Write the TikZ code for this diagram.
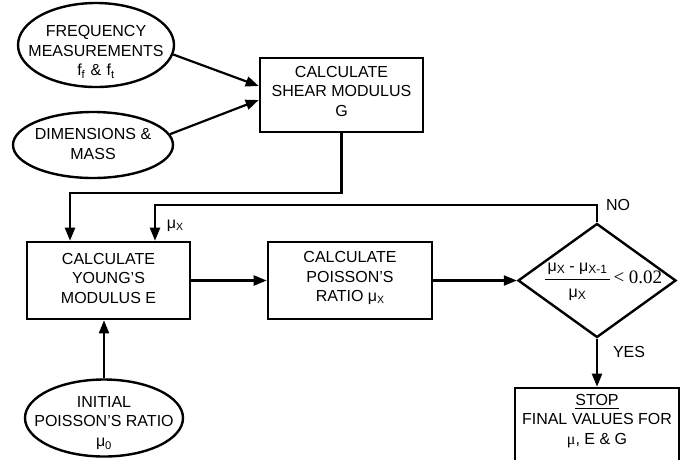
\documentclass[tikz,border=0pt]{standalone}
\usepackage{fontspec}
\usepackage{amsmath}
\setmainfont{Liberation Sans}
\newfontfamily\serifff{Liberation Serif}
\usetikzlibrary{shapes.geometric,arrows.meta,calc}
\newcommand\subXX[1]{\raisebox{-1.5pt}{\fontsize{10.5}{10.5}\selectfont #1}}
\newcommand\myMuX{μ\subXX{X}}
\newcommand\subXY[1]{\raisebox{-1.5pt}{\fontsize{12}{12}\selectfont #1}}
\begin{document}
\begin{tikzpicture}[x=1pt,y=-1pt,
  every node/.style={font=\fontsize{16}{19.5}\selectfont},
  box/.style={draw, line width=2.6pt, rectangle, inner sep=0pt, align=center},
  oval/.style={draw, line width=2.4pt, ellipse, inner sep=0pt},
  txt/.style={align=center, inner sep=0pt},
  arr/.style={line width=2.2pt, -{Triangle[length=13pt,width=10pt]}}]
\useasboundingbox (0,0) rectangle (685,459);
\fill[white] (0,0) rectangle (685,459);

% input ovals
\node[oval, minimum width=156pt, minimum height=84pt] (e1) at (96,45) {};
\node[txt] (e1t) at (96,52)
  {FREQUENCY\\MEASUREMENTS\\f\textsubscript{f}\,\,\&\,\,f\textsubscript{t}};
\node[oval, minimum width=160pt, minimum height=66pt] (e2) at (93,145) {};
\node[txt] (e2t) at (93,144) {DIMENSIONS \&\\MASS};
\node[oval, minimum width=158pt, minimum height=77pt] (e3) at (104,418) {};
\node[txt] (e3t) at (104,423) {INITIAL\\POISSON’S RATIO\\μ\textsubscript{0}};

% process boxes
\node[box, minimum width=163pt, minimum height=74pt] (shear) at (341.5,95) {};
\node[txt] (sheart) at (341.5,91) {CALCULATE\\SHEAR MODULUS\\G};
\node[box, minimum width=163pt, minimum height=77pt] (young) at (108.5,280.5) {};
\node[txt] (youngt) at (108.5,278) {CALCULATE\\YOUNG’S\\MODULUS E};
\node[box, minimum width=164pt, minimum height=77pt] (poisson) at (350,280.5) {};
\node[txt] (poissont) at (350,278) {CALCULATE\\POISSON’S\\RATIO \myMuX};

% decision
\node[diamond, draw, line width=2.4pt, inner sep=0pt, minimum width=158pt, minimum height=114pt] (dec) at (597,280.5) {};
\node[inner sep=0pt] (cond) at (603,282)
  {{\fontsize{16}{16}\selectfont$\dfrac{\text{\,μ\subXY{X}\ - μ\subXY{X-1}\,}}{\rule{0pt}{16pt}\text{μ\subXY{X}}}$}\,{\serifff\fontsize{19}{19}\selectfont \textless\ 0.02}};

% stop box
\node[box, minimum width=164pt, minimum height=94pt] (stop) at (597,435) {};
\node[txt] (stoptxt) at (597,421)
  {\underline{STOP}\\FINAL VALUES FOR\\{\serifff μ}, E \& G};

% connectors
\draw[arr] (e1.-7) -- ($(shear.west)+(0,-9)$);
\draw[arr] (e2.8) -- ($(shear.west)+(0,5)$);
\coordinate (j1) at (70,193);
\draw[arr] (shear.south) |- (j1) -- (j1 |- young.north);
\coordinate (j2) at (155,205);
\draw[arr] (dec.north) |- (j2) -- (j2 |- young.north);
\draw[arr] (young.east) -- (poisson.west);
\draw[arr] (poisson.east) -- (dec.west);
\draw[arr] (dec.south) -- (stop.north);
\draw[arr] (e3.north) -- (e3.north |- young.south);

% labels
\node (mulbl) at (175,226) {\myMuX};
\node (nolbl) at (618,205) {NO};
\node (yeslbl) at (629,352) {YES};
\end{tikzpicture}
\end{document}
